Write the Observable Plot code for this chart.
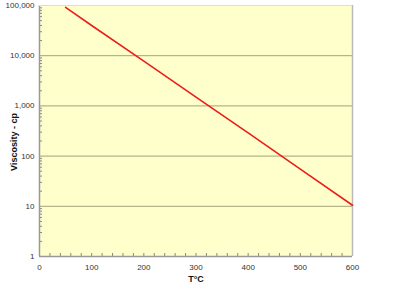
<!DOCTYPE html>
<html><head><meta charset="utf-8">
<script src="https://cdn.jsdelivr.net/npm/d3@7"></script>
<script src="https://cdn.jsdelivr.net/npm/@observablehq/plot@0.6"></script>
<style>html,body{margin:0;padding:0;background:#fff;}</style>
</head><body><div id="chart"></div>
<script>
const temps = [50, 100, 200, 300, 400, 500, 600];
const viscosity = [92000, 40000, 7800, 1500, 290, 55, 10.5];
const xTicks = [0, 100, 200, 300, 400, 500, 600];
const yTicks = [1, 10, 100, 1000, 10000, 100000];
const xLabel = "T°C";
const yLabel = "Viscosity - cp";

const data = temps.map((t, i) => ({t, v: viscosity[i]}));
const xMinor = d3.range(0, 601, 20);
const yMinor = [];
for (let e = 0; e < 5; e++) for (let k = 2; k <= 9; k++) yMinor.push(k * 10 ** e);

const chart = Plot.plot({
  width: 393, height: 291,
  marginLeft: 39, marginRight: 41, marginTop: 5, marginBottom: 35,
  style: {background: "#fff", fontFamily: "'Liberation Sans', Arial, sans-serif", fontSize: "8px", color: "#222"},
  x: {domain: [0, 600]},
  y: {type: "log", domain: [1, 100000]},
  marks: [
    Plot.frame({fill: "#ffffcc", stroke: null}),
    Plot.gridY([10, 100, 1000, 10000], {stroke: "#a3a27a", strokeOpacity: 1, strokeWidth: 1}),
    Plot.axisX(xMinor, {tickSize: -3, tickFormat: () => "", stroke: "#888", label: null}),
    Plot.axisY(yMinor, {tickSize: -3, tickFormat: () => "", stroke: "#888", label: null}),
    Plot.axisX(xTicks, {tickSize: 0, tickPadding: 8, tickFormat: d => String(d), label: null, fill: "#333"}),
    Plot.axisY(yTicks, {tickSize: 0, tickPadding: 5, tickFormat: d3.format(","), label: null, fill: "#333"}),
    Plot.ruleX([0], {stroke: "#999", strokeWidth: 1.5}),
    Plot.ruleY([1], {stroke: "#999", strokeWidth: 1.5}),
    Plot.ruleX([600], {stroke: "#bbb", strokeWidth: 1.5}),
    Plot.ruleY([100000], {stroke: "#ddd", strokeWidth: 1}),
    Plot.line(data, {x: "t", y: "v", stroke: "#ee1c1c", strokeWidth: 1.6}),
    Plot.text([xLabel], {frameAnchor: "bottom", dy: 25, fontWeight: "bold", fontSize: 9, fill: "#111"})
  ]
});
d3.select(chart).append("text")
  .attr("transform", "translate(17,142) rotate(-90)")
  .attr("text-anchor", "middle")
  .attr("font-weight", "bold")
  .attr("font-size", 9)
  .attr("fill", "#111")
  .text(yLabel);
document.getElementById("chart").appendChild(chart);
</script>
</body></html>
